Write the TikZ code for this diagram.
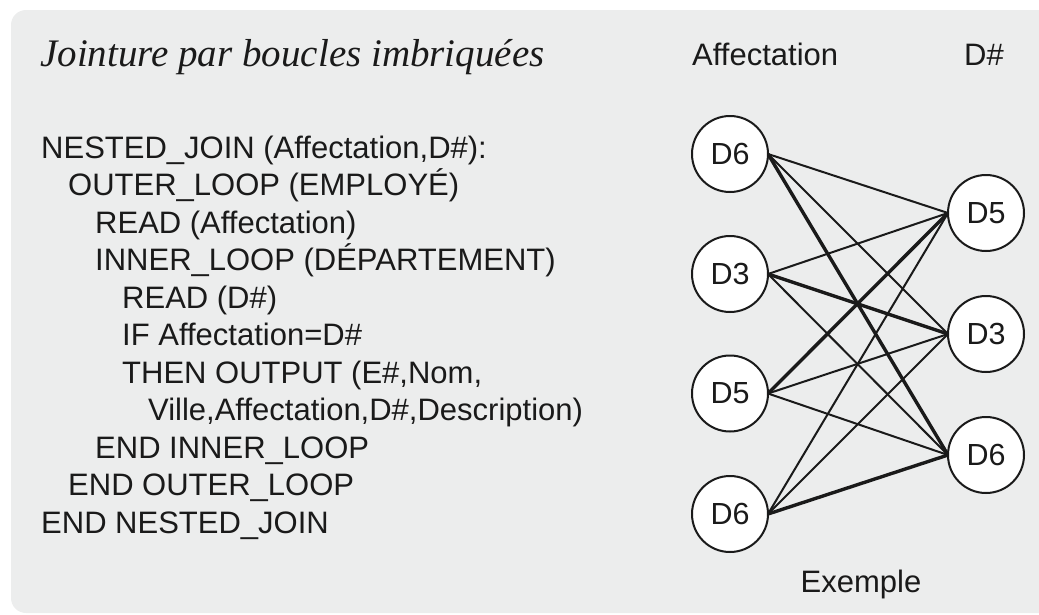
\documentclass[tikz,border=0pt]{standalone}
\usepackage{fontspec}
\setmainfont{Liberation Sans}
\newfontfamily\titlefont{Liberation Serif}
\definecolor{bggray}{RGB}{236,237,237}
\definecolor{ink}{RGB}{26,26,26}
\begin{document}
\begin{tikzpicture}[x=1pt,y=-1pt,
  txt/.style={inner sep=0pt,anchor=base west,text=ink,font=\fontsize{31}{37}\selectfont},
  circ/.style={circle,draw=ink,fill=white,line width=2pt,minimum size=76pt,inner sep=0pt,text=ink,font=\fontsize{30.5}{36}\selectfont},
  thin/.style={draw=ink,line width=2pt},
  thick/.style={draw=ink,line width=3.4pt}]
\useasboundingbox (0,0) rectangle (1039,614);
\fill[bggray,rounded corners=15pt] (11,10) rectangle (1060,613);
% title
\node[inner sep=0pt,anchor=base west,text=ink,font=\titlefont\itshape\fontsize{39}{45}\selectfont] (title) at (40,66) {Jointure par boucles imbriquées};
% code
\node[txt] (c1) at (41,158) {NESTED\_JOIN (Affectation,D\#):};
\node[txt] (c2) at (68,195.5) {OUTER\_LOOP (EMPLOYÉ)};
\node[txt] (c3) at (95,233) {READ (Affectation)};
\node[txt] (c4) at (95,270.5) {INNER\_LOOP (DÉPARTEMENT)};
\node[txt] (c5) at (122,308) {READ (D\#)};
\node[txt] (c6) at (122,345.5) {IF Affectation=D\#};
\node[txt] (c7) at (122,383) {THEN OUTPUT (E\#,Nom,};
\node[txt] (c8) at (148,420.5) {Ville,Affectation,D\#,Description)};
\node[txt] (c9) at (95,458) {END INNER\_LOOP};
\node[txt] (c10) at (68,495.5) {END OUTER\_LOOP};
\node[txt] (c11) at (41,533) {END NESTED\_JOIN};
% headers
\node[txt] (hA) at (692,65) {Affectation};
\node[txt,anchor=base] (hD) at (984,65) {D\#};
\node[txt,anchor=base] (ex) at (861,592) {Exemple};
% edge end points (east of left circles, west of right circles)
\coordinate (l1) at (768,154);
\coordinate (l2) at (768,274);
\coordinate (l3) at (768,393.5);
\coordinate (l4) at (768,514);
\coordinate (r1) at (948,213);
\coordinate (r2) at (948,334);
\coordinate (r3) at (948,455);
\draw[thin] (l1) -- (r1);
\draw[thin] (l1) -- (r2);
\draw[thick] (l1) -- (r3);
\draw[thin] (l2) -- (r1);
\draw[thick] (l2) -- (r2);
\draw[thin] (l2) -- (r3);
\draw[thick] (l3) -- (r1);
\draw[thin] (l3) -- (r2);
\draw[thin] (l3) -- (r3);
\draw[thin] (l4) -- (r1);
\draw[thin] (l4) -- (r2);
\draw[thick] (l4) -- (r3);
% circles
\node[circ] (L1) at (730,154) {D6};
\node[circ] (L2) at (730,274) {D3};
\node[circ] (L3) at (730,393.5) {D5};
\node[circ] (L4) at (730,514) {D6};
\node[circ] (R1) at (986,213) {D5};
\node[circ] (R2) at (986,334) {D3};
\node[circ] (R3) at (986,455) {D6};
\end{tikzpicture}
\end{document}
